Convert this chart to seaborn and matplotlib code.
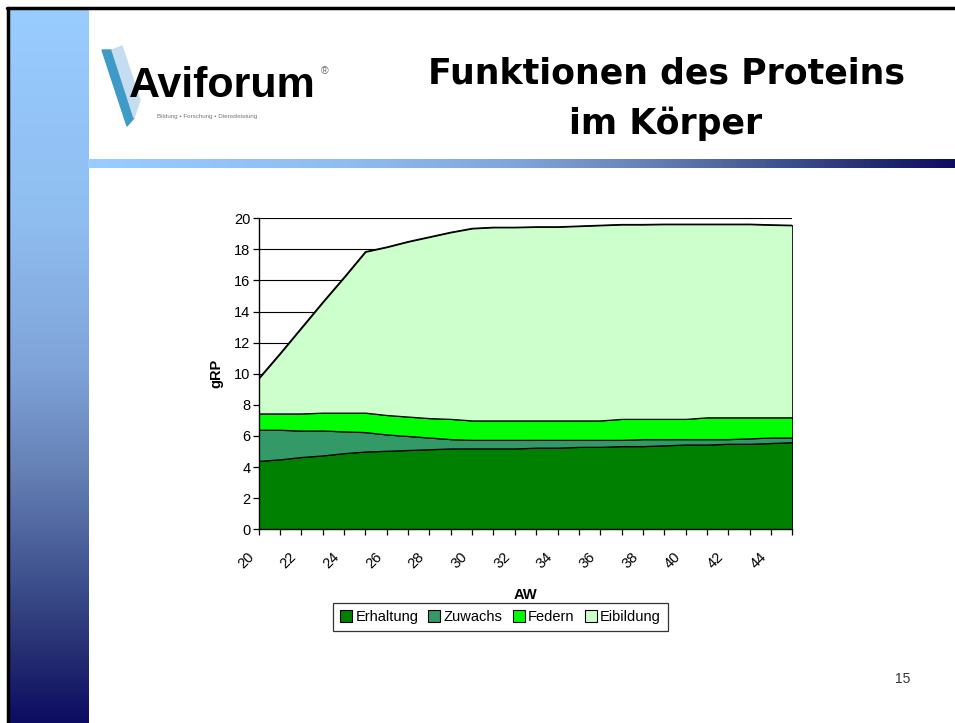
import numpy as np
import pandas as pd
import matplotlib
matplotlib.use("Agg")
import matplotlib.pyplot as plt
import matplotlib.transforms as mtransforms
import seaborn as sns
from matplotlib.colors import LinearSegmentedColormap
from matplotlib.patches import Patch, Polygon

# data (gRP per series, stacked)
aw = list(range(20, 46))
erhaltung = [4.4, 4.5, 4.65, 4.75, 4.9, 5.0, 5.05, 5.1, 5.15, 5.2, 5.2, 5.2, 5.2,
             5.25, 5.25, 5.3, 5.3, 5.35, 5.35, 5.4, 5.45, 5.45, 5.5, 5.5, 5.55, 5.6]
zuwachs = [2.0, 1.9, 1.7, 1.6, 1.4, 1.25, 1.05, 0.9, 0.75, 0.6, 0.55, 0.55, 0.55,
           0.5, 0.5, 0.45, 0.45, 0.4, 0.45, 0.4, 0.35, 0.35, 0.3, 0.35, 0.35, 0.3]
federn = [1.05, 1.05, 1.1, 1.15, 1.2, 1.25, 1.25, 1.25, 1.25, 1.3, 1.25, 1.25, 1.25,
          1.25, 1.25, 1.25, 1.25, 1.35, 1.3, 1.3, 1.3, 1.4, 1.4, 1.35, 1.3, 1.3]
eibildung = [2.25, 3.85, 5.5, 7.1, 8.7, 10.35, 10.8, 11.25, 11.65, 12.0, 12.35, 12.42,
             12.42, 12.45, 12.45, 12.5, 12.55, 12.5, 12.5, 12.52, 12.52, 12.42, 12.42,
             12.42, 12.38, 12.35]
series_names = ["Erhaltung", "Zuwachs", "Federn", "Eibildung"]
series_colors = ["#008000", "#339966", "#00FF00", "#CCFFCC"]
y_ticks = list(range(0, 21, 2))

df = pd.DataFrame({"AW": aw, "Erhaltung": erhaltung, "Zuwachs": zuwachs,
                   "Federn": federn, "Eibildung": eibildung})

sns.set_style("white")
plt.rcParams["font.family"] = ["Liberation Sans", "DejaVu Sans"]
for key in ["text.color", "axes.labelcolor", "xtick.color", "ytick.color"]:
    plt.rcParams[key] = "black"

fig = plt.figure(figsize=(9.55, 7.23), dpi=100)
W, H = 955, 723

# slide decoration: left gradient bar, top/left border, gradient rule
blue_cmap = LinearSegmentedColormap.from_list(
    "slide", [(0.0, "#99CCFF"), (0.3, "#8FBDF0"), (0.5, "#7FA4DA"), (0.65, "#6580B5"),
              (0.8, "#3E518E"), (0.9, "#262F72"), (1.0, "#0C0C62")])
bar = fig.add_axes([9 / W, 0, 79 / W, (H - 9) / H])
bar.imshow(np.linspace(0, 1, 256).reshape(-1, 1), aspect="auto", cmap=blue_cmap)
bar.axis("off")

rule = fig.add_axes([88 / W, 1 - 168 / H, (W - 88) / W, 9 / H])
rule.imshow(np.linspace(0, 1, 256).reshape(1, -1), aspect="auto", cmap=blue_cmap)
rule.axis("off")

fig.add_artist(plt.Line2D([7 / W, 1], [1 - 8 / H, 1 - 8 / H], color="black", lw=2.5))
fig.add_artist(plt.Line2D([8 / W, 8 / W], [0, 1 - 8 / H], color="black", lw=2.5))

# logo
fig.add_artist(Polygon([(102 / W, 1 - 50 / H), (112 / W, 1 - 50 / H),
                        (134 / W, 1 - 118 / H), (127 / W, 1 - 126 / H)],
                       closed=True, color="#3E9AC6", transform=fig.transFigure))
fig.add_artist(Polygon([(112 / W, 1 - 50 / H), (122 / W, 1 - 46 / H),
                        (140 / W, 1 - 100 / H), (134 / W, 1 - 118 / H)],
                       closed=True, color="#C4DDF0", transform=fig.transFigure))
fig.text(129 / W, 1 - 97 / H, "Aviforum", fontsize=31, fontweight="bold", color="black")
fig.text(321 / W, 1 - 74 / H, "\u00ae", fontsize=7.5, color="#666666")
fig.text(157 / W, 1 - 118 / H, "Bildung \u2022 Forschung \u2022 Dienstleistung",
         fontsize=4.5, color="#777777")

# title, two lines placed by baseline
title_font = ["DejaVu Sans"]
fig.text(666 / W, 1 - 84 / H, "Funktionen des Proteins", ha="center", va="baseline",
         fontsize=25, fontweight="bold", family=title_font)
fig.text(666 / W, 1 - 134 / H, "im K\u00f6rper", ha="center", va="baseline",
         fontsize=25, fontweight="bold", family=title_font)

fig.text(903 / W, 1 - 679 / H, "15", ha="center", va="center", fontsize=10, color="#333333")

# chart
ax = fig.add_axes([258.7 / W, 1 - 529.3 / H, 533.6 / W, 311 / H])
ax.stackplot(df["AW"], [df[c] for c in series_names], colors=series_colors,
             edgecolor="black", linewidth=0.9, zorder=2)
sns.lineplot(x=df["AW"], y=df[series_names].sum(axis=1), color="black", lw=0.9,
             ax=ax, zorder=3)
ax.set_xlim(aw[0], aw[-1])
ax.set_ylim(0, 20)
ax.set_yticks(y_ticks)
ax.set_yticklabels([str(v) for v in y_ticks], fontsize=10.5)
ax.set_xticks(aw)
ax.set_xticklabels([str(a) if a % 2 == 0 else "" for a in aw], fontsize=10.5,
                   rotation=45, ha="right", rotation_mode="anchor")
ax.tick_params(axis="both", direction="out", length=4, width=0.9, color="black",
               bottom=True, left=True)
ax.tick_params(axis="x", pad=11)
ax.tick_params(axis="y", pad=2)
shift = mtransforms.ScaledTranslation(-12 / 100, 0, fig.dpi_scale_trans)
for lab in ax.get_xticklabels():
    lab.set_transform(lab.get_transform() + shift)
ax.yaxis.grid(True, color="black", linewidth=0.8)
ax.set_axisbelow(True)
for side in ["top", "right"]:
    ax.spines[side].set_visible(False)
for side in ["left", "bottom"]:
    ax.spines[side].set_color("black")
    ax.spines[side].set_linewidth(1.0)
ax.set_xlabel("AW", fontsize=10.5, fontweight="bold", labelpad=12)
ax.set_ylabel("gRP", fontsize=10.5, fontweight="bold", labelpad=8)

handles = [Patch(facecolor=c, edgecolor="black", linewidth=0.8) for c in series_colors]
leg = fig.legend(handles, series_names, loc="center", ncol=4,
                 bbox_to_anchor=(500.5 / W, 1 - 617 / H), fontsize=10.5,
                 frameon=True, fancybox=False, edgecolor="black",
                 handlelength=0.8, handleheight=0.8, handletextpad=0.25,
                 columnspacing=0.7, borderpad=0.45, borderaxespad=0)
leg.get_frame().set_linewidth(0.9)

fig.savefig("out.png", dpi=100, facecolor="white")
